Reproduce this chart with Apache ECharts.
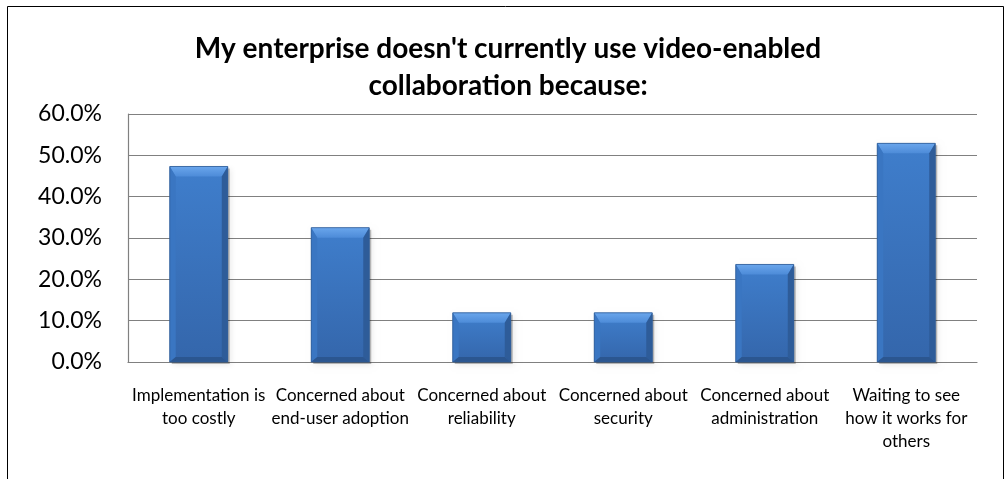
<!DOCTYPE html>
<html>
<head>
<meta charset="utf-8">
<script src="https://cdn.jsdelivr.net/npm/echarts@6/dist/echarts.min.js"></script>
<style>
  html, body { margin: 0; padding: 0; background: #fff; }
  #chart { width: 1005px; height: 479px; }
</style>
</head>
<body>
<div id="chart"></div>
<script>
// Survey reasons (percent of respondents)
const categories = [
  'Implementation is too costly',
  'Concerned about end-user adoption',
  'Concerned about reliability',
  'Concerned about security',
  'Concerned about administration',
  'Waiting to see how it works for others'
];
const tickLabels = [
  'Implementation is\ntoo costly',
  'Concerned about\nend-user adoption',
  'Concerned about\nreliability',
  'Concerned about\nsecurity',
  'Concerned about\nadministration',
  'Waiting to see\nhow it works for\nothers'
];
const values = [47.3, 32.5, 11.9, 11.9, 23.6, 52.9];
const yTicks = [0, 10, 20, 30, 40, 50, 60];

const FONT = 'Lato, "Open Sans", sans-serif';

// Bevelled bar: face, four bevel facets and a soft drop shadow
function renderBar(params, api) {
  const idx = api.value(0);
  const val = api.value(1);
  const top = api.coord([idx, val]);
  const base = api.coord([idx, 0]);
  const band = api.size([1, 0])[0];
  const w = band * 0.41;
  const l = top[0] - w / 2, r = l + w;
  const t = top[1], b = base[1];
  const h = b - t;
  const bt = Math.min(10, h / 2.2);
  const bs = Math.min(6, h / 3);
  const bb = Math.min(5, h / 4);
  const poly = (pts, fill) => ({ type: 'polygon', shape: { points: pts }, style: { fill: fill } });
  return {
    type: 'group',
    children: [
      { type: 'rect', shape: { x: l + 2, y: t + 2, width: w, height: h },
        style: { fill: 'rgba(0,0,0,0.25)', shadowBlur: 6, shadowColor: 'rgba(0,0,0,0.35)', shadowOffsetX: 1, shadowOffsetY: 1 } },
      { type: 'rect', shape: { x: l, y: t, width: w, height: h },
        style: { fill: new echarts.graphic.LinearGradient(0, 0, 0, 1, [
          { offset: 0, color: '#3f7ecc' }, { offset: 1, color: '#3466ab' }]) } },
      poly([[l, t], [r, t], [r - bs, t + bt], [l + bs, t + bt]],
        new echarts.graphic.LinearGradient(0, 0, 0, 1, [
          { offset: 0, color: '#6aa6ec' }, { offset: 1, color: '#4d8bd8' }])),
      poly([[l, t], [l + bs, t + bt], [l + bs, b - bb], [l, b]], '#3a76c2'),
      poly([[r, t], [r - bs, t + bt], [r - bs, b - bb], [r, b]], '#2e5c99'),
      poly([[l, b], [l + bs, b - bb], [r - bs, b - bb], [r, b]], '#2b5690'),
      { type: 'rect', shape: { x: l, y: t, width: w, height: h },
        style: { fill: 'none', stroke: '#2d5a96', lineWidth: 0.8 } }
    ]
  };
}

const chart = echarts.init(document.getElementById('chart'), null, { renderer: 'canvas' });
chart.setOption({
  animation: false,
  backgroundColor: '#ffffff',
  title: {
    text: "My enterprise doesn't currently use video-enabled\ncollaboration because:",
    left: 503,
    textAlign: 'center',
    top: 25,
    textStyle: { fontFamily: FONT, fontWeight: 'bold', fontSize: 28, lineHeight: 37, color: '#000' }
  },
  graphic: [{
    type: 'rect',
    shape: { x: 7.5, y: 6.5, width: 996, height: 520 },
    style: { fill: 'none', stroke: '#000', lineWidth: 1 },
    silent: true
  }],
  grid: { left: 128, right: 28, top: 114, bottom: 117, containLabel: false },
  xAxis: {
    type: 'category',
    data: categories,
    axisLine: { lineStyle: { color: '#808080', width: 1.2 } },
    axisTick: { show: false },
    axisLabel: {
      interval: 0,
      margin: 22,
      fontFamily: FONT,
      fontSize: 17,
      lineHeight: 23,
      color: '#000',
      formatter: (v, i) => tickLabels[i]
    }
  },
  yAxis: {
    type: 'value',
    min: yTicks[0],
    max: yTicks[yTicks.length - 1],
    interval: 10,
    axisLine: { show: true, lineStyle: { color: '#808080', width: 1.2 } },
    axisTick: { show: false },
    splitLine: { lineStyle: { color: '#808080', width: 1.2 } },
    axisLabel: {
      margin: 26,
      fontFamily: FONT,
      fontSize: 23,
      color: '#000',
      formatter: v => v.toFixed(1) + '%'
    }
  },
  series: [{
    type: 'custom',
    renderItem: renderBar,
    encode: { x: 0, y: 1 },
    data: values.map((v, i) => [i, v])
  }]
});
</script>
</body>
</html>
